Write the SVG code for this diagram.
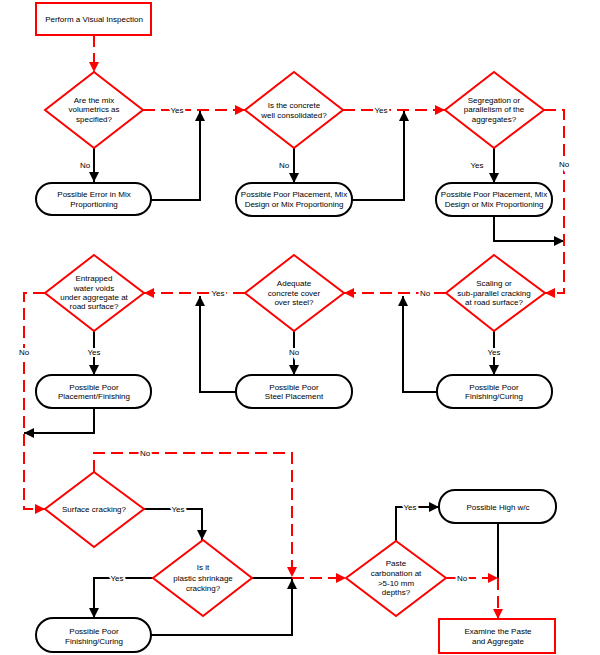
<svg xmlns="http://www.w3.org/2000/svg" width="600" height="655" viewBox="0 0 600 655">
<defs>
<marker id="ab" markerUnits="userSpaceOnUse" markerWidth="10" markerHeight="10" refX="10" refY="5" orient="auto"><path d="M0,0 L10,5 L0,10 z" fill="#000"/></marker>
<marker id="ar" markerUnits="userSpaceOnUse" markerWidth="10" markerHeight="10" refX="10" refY="5" orient="auto"><path d="M0,0 L10,5 L0,10 z" fill="#f00"/></marker>
<style>
.t{font-family:"Liberation Sans",Arial,sans-serif;font-size:8px;fill:#000;text-anchor:middle}
.l{font-family:"Liberation Sans",Arial,sans-serif;font-size:8px;fill:#000;text-anchor:middle;paint-order:stroke;stroke:#fff;stroke-width:4px}
.dia{fill:#fff;stroke:#f00;stroke-width:2}
.rbox{fill:#fff;stroke:#f00;stroke-width:2}
.term{fill:#fff;stroke:#000;stroke-width:2}
.cb{fill:none;stroke:#000;stroke-width:2}
.cr{fill:none;stroke:#f00;stroke-width:2;stroke-dasharray:12,6}
</style>
</defs>
<rect width="600" height="655" fill="#fff"/>
<g id="connectors">
<path class="cr" d="M94,35 V72" marker-end="url(#ar)"/>
<path class="cr" d="M143,110 H245" marker-end="url(#ar)"/>
<path class="cb" d="M94,148 V182" marker-end="url(#ab)"/>
<path class="cb" d="M151,200 H200 V111" marker-end="url(#ab)"/>
<path class="cr" d="M343,110 H445" marker-end="url(#ar)"/>
<path class="cb" d="M294,148 V183" marker-end="url(#ab)"/>
<path class="cb" d="M352,200 H404 V111" marker-end="url(#ab)"/>
<path class="cb" d="M494,148 V183" marker-end="url(#ab)"/>
<path class="cb" d="M494,216 V241 H564" marker-end="url(#ab)"/>
<path class="cr" d="M544,110 H564 V293 H545" marker-end="url(#ar)"/>
<path class="cb" d="M494,331 V375" marker-end="url(#ab)"/>
<path class="cb" d="M437,392 H403 V296" marker-end="url(#ab)"/>
<path class="cr" d="M446,293 H344" marker-end="url(#ar)"/>
<path class="cb" d="M294,331 V375" marker-end="url(#ab)"/>
<path class="cb" d="M236,392 H200 V296" marker-end="url(#ab)"/>
<path class="cr" d="M245,293 H144" marker-end="url(#ar)"/>
<path class="cb" d="M94,331 V375" marker-end="url(#ab)"/>
<path class="cb" d="M94,408 V433 H24" marker-end="url(#ab)"/>
<path class="cr" d="M45,293 H24 V509 H45" marker-end="url(#ar)"/>
<path class="cr" d="M94,472 V453 H292 V577" marker-end="url(#ar)"/>
<path class="cb" d="M144,509 H202 V540" marker-end="url(#ab)"/>
<path class="cb" d="M153,578 H94 V618" marker-end="url(#ab)"/>
<path class="cb" d="M252,578 H292"/>
<path class="cb" d="M151,635 H292 V579" marker-end="url(#ab)"/>
<path class="cr" d="M292,578 H346" marker-end="url(#ar)"/>
<path class="cb" d="M396,541 V507 H439" marker-end="url(#ab)"/>
<path class="cb" d="M498,523 V578"/>
<path class="cr" d="M446,578 H498" marker-end="url(#ar)"/>
<path class="cr" d="M498,578 V619" marker-end="url(#ar)"/>
<text class="l" x="177" y="113">Yes</text>
<text class="l" x="381" y="113">Yes</text>
<text class="t" x="85" y="168">No</text>
<text class="t" x="284" y="168">No</text>
<text class="t" x="477" y="168">Yes</text>
<text class="l" x="564" y="167">No</text>
<text class="l" x="494" y="355">Yes</text>
<text class="l" x="425" y="296">No</text>
<text class="l" x="294" y="355">No</text>
<text class="l" x="218" y="296">Yes</text>
<text class="l" x="94" y="355">Yes</text>
<text class="l" x="24" y="355">No</text>
<text class="l" x="145" y="456">No</text>
<text class="l" x="178" y="512">Yes</text>
<text class="l" x="117" y="581">Yes</text>
<text class="t" x="242" y="581">No</text>
<text class="l" x="410" y="510">Yes</text>
<text class="l" x="462" y="581">No</text>
</g>
<g id="start"><rect class="rbox" x="36" y="3" width="115" height="32"/><text class="t" x="94" y="22">Perform a Visual Inspection</text></g>
<g id="d1"><polygon class="dia" points="94,72 143,110 94,148 45,110"/><text class="t" x="94" y="103">Are the mix</text><text class="t" x="94" y="112">volumetrics as</text><text class="t" x="94" y="122">specified?</text></g>
<g id="b1"><rect class="term" x="36" y="183" width="115" height="32" rx="16"/><text class="t" x="94" y="197">Possible Error in Mix</text><text class="t" x="94" y="207">Proportioning</text></g>
<g id="d2"><polygon class="dia" points="294,72 343,110 294,148 245,110"/><text class="t" x="294" y="108">Is the concrete</text><text class="t" x="294" y="118">well consolidated?</text></g>
<g id="b2"><rect class="term" x="236" y="183" width="116" height="33" rx="16"/><text class="t" x="294" y="197">Possible Poor Placement, Mix</text><text class="t" x="294" y="207">Design or Mix Proportioning</text></g>
<g id="d3"><polygon class="dia" points="494,72 544,110 494,148 445,110"/><text class="t" x="494" y="103">Segregation or</text><text class="t" x="494" y="112">parallelism of the</text><text class="t" x="494" y="122">aggregates?</text></g>
<g id="b3"><rect class="term" x="436" y="183" width="116" height="33" rx="16"/><text class="t" x="494" y="197">Possible Poor Placement, Mix</text><text class="t" x="494" y="207">Design or Mix Proportioning</text></g>
<g id="d4"><polygon class="dia" points="494,255 545,293 494,331 446,293"/><text class="t" x="494" y="286">Scaling or</text><text class="t" x="494" y="296">sub-parallel cracking</text><text class="t" x="494" y="305">at road surface?</text></g>
<g id="b4"><rect class="term" x="437" y="375" width="115" height="33" rx="16"/><text class="t" x="494" y="390">Possible Poor</text><text class="t" x="494" y="399">Finishing/Curing</text></g>
<g id="d5"><polygon class="dia" points="294,255 344,293 294,331 245,293"/><text class="t" x="294" y="286">Adequate</text><text class="t" x="294" y="296">concrete cover</text><text class="t" x="294" y="305">over steel?</text></g>
<g id="b5"><rect class="term" x="236" y="375" width="116" height="33" rx="16"/><text class="t" x="294" y="390">Possible Poor</text><text class="t" x="294" y="399">Steel Placement</text></g>
<g id="d6"><polygon class="dia" points="94,255 144,293 94,331 45,293"/><text class="t" x="94" y="281">Entrapped</text><text class="t" x="94" y="291">water voids</text><text class="t" x="94" y="300">under aggregate at</text><text class="t" x="94" y="309">road surface?</text></g>
<g id="b6"><rect class="term" x="36" y="375" width="115" height="33" rx="16"/><text class="t" x="94" y="390">Possible Poor</text><text class="t" x="94" y="399">Placement/Finishing</text></g>
<g id="d7"><polygon class="dia" points="94,472 144,509 94,547 45,509"/><text class="t" x="94" y="512">Surface cracking?</text></g>
<g id="d8"><polygon class="dia" points="203,540 252,578 203,616 153,578"/><text class="t" x="203" y="570">Is it</text><text class="t" x="203" y="581">plastic shrinkage</text><text class="t" x="203" y="591">cracking?</text></g>
<g id="b7"><rect class="term" x="36" y="618" width="115" height="34" rx="17"/><text class="t" x="94" y="634">Possible Poor</text><text class="t" x="94" y="644">Finishing/Curing</text></g>
<g id="d9"><polygon class="dia" points="396,541 446,578 396,616 346,578"/><text class="t" x="396" y="566">Paste</text><text class="t" x="396" y="576">carbonation at</text><text class="t" x="396" y="586">&gt;5-10 mm</text><text class="t" x="396" y="595">depths?</text></g>
<g id="b8"><rect class="term" x="439" y="490" width="117" height="33" rx="16"/><text class="t" x="498" y="510">Possible High w/c</text></g>
<g id="end"><rect class="rbox" x="439" y="619" width="116" height="34"/><text class="t" x="498" y="634">Examine the Paste</text><text class="t" x="498" y="644">and Aggregate</text></g>
</svg>
